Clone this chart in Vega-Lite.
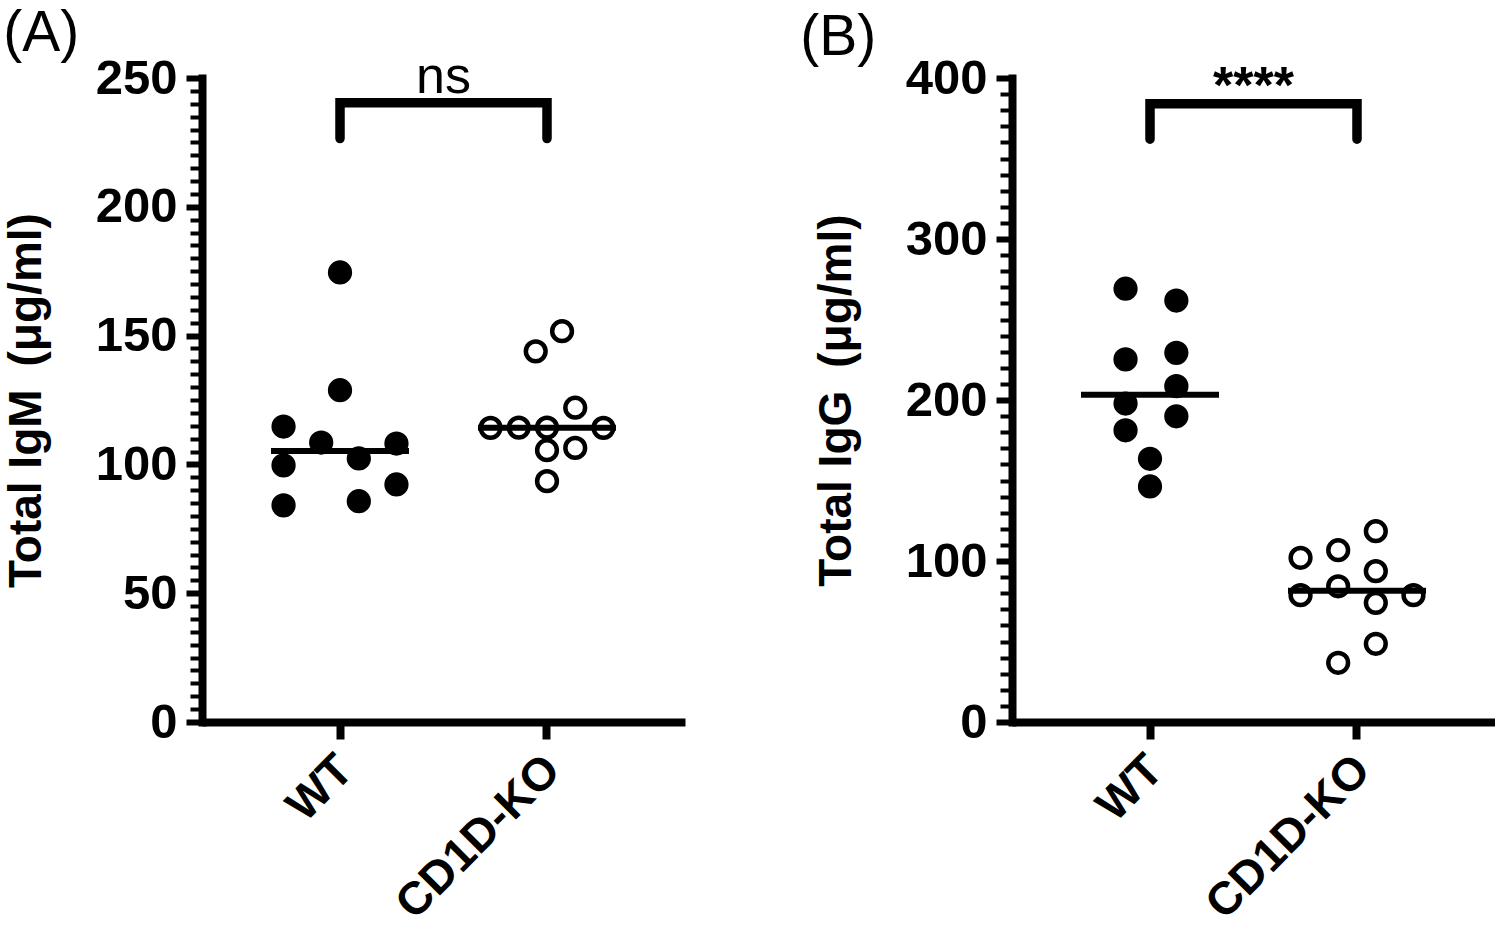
{
  "$schema": "https://vega.github.io/schema/vega-lite/v6.json",
  "background": "white",
  "padding": {"left": 3, "top": 5, "right": 0, "bottom": 0},
  "config": {
    "view": {"stroke": null},
    "font": "Liberation Sans",
    "axis": {"domainColor": "black", "tickColor": "black", "labelColor": "black", "titleColor": "black", "grid": false},
    "title": {"color": "black"},
    "text": {"color": "black"}
  },
  "datasets": {
    "igm": [
      {"group": "WT", "value": 174.5, "dodge": 0},
      {"group": "WT", "value": 128.8, "dodge": 0},
      {"group": "WT", "value": 114.7, "dodge": -3},
      {"group": "WT", "value": 108.5, "dodge": -1},
      {"group": "WT", "value": 108.1, "dodge": 3},
      {"group": "WT", "value": 99.6, "dodge": -3},
      {"group": "WT", "value": 102.3, "dodge": 1},
      {"group": "WT", "value": 84.1, "dodge": -3},
      {"group": "WT", "value": 85.7, "dodge": 1},
      {"group": "WT", "value": 92.2, "dodge": 3},
      {"group": "CD1D-KO", "value": 151.7, "dodge": 0.8},
      {"group": "CD1D-KO", "value": 143.9, "dodge": -0.6},
      {"group": "CD1D-KO", "value": 122.0, "dodge": 1.5},
      {"group": "CD1D-KO", "value": 114.2, "dodge": -3},
      {"group": "CD1D-KO", "value": 114.3, "dodge": -1.5},
      {"group": "CD1D-KO", "value": 114.3, "dodge": 0},
      {"group": "CD1D-KO", "value": 114.2, "dodge": 3},
      {"group": "CD1D-KO", "value": 105.5, "dodge": 0},
      {"group": "CD1D-KO", "value": 106.4, "dodge": 1.5},
      {"group": "CD1D-KO", "value": 93.5, "dodge": 0}
    ],
    "igg": [
      {"group": "WT", "value": 269.1, "dodge": -1.3},
      {"group": "WT", "value": 261.8, "dodge": 1.4},
      {"group": "WT", "value": 225.2, "dodge": -1.3},
      {"group": "WT", "value": 229.3, "dodge": 1.4},
      {"group": "WT", "value": 208.6, "dodge": 1.4},
      {"group": "WT", "value": 197.8, "dodge": -1.3},
      {"group": "WT", "value": 189.9, "dodge": 1.4},
      {"group": "WT", "value": 181.2, "dodge": -1.3},
      {"group": "WT", "value": 163.5, "dodge": 0},
      {"group": "WT", "value": 146.3, "dodge": 0},
      {"group": "CD1D-KO", "value": 118.5, "dodge": 1},
      {"group": "CD1D-KO", "value": 102.0, "dodge": -3},
      {"group": "CD1D-KO", "value": 106.7, "dodge": -1},
      {"group": "CD1D-KO", "value": 93.7, "dodge": 1},
      {"group": "CD1D-KO", "value": 78.8, "dodge": -3},
      {"group": "CD1D-KO", "value": 84.3, "dodge": -1},
      {"group": "CD1D-KO", "value": 74.0, "dodge": 1},
      {"group": "CD1D-KO", "value": 78.8, "dodge": 3},
      {"group": "CD1D-KO", "value": 48.6, "dodge": 1},
      {"group": "CD1D-KO", "value": 36.8, "dodge": -1}
    ],
    "bracketA": [
      {"group": "WT", "value": 226.5, "i": 0},
      {"group": "WT", "value": 240.4, "i": 1},
      {"group": "CD1D-KO", "value": 240.4, "i": 2},
      {"group": "CD1D-KO", "value": 226.5, "i": 3}
    ],
    "bracketB": [
      {"group": "WT", "value": 362, "i": 0},
      {"group": "WT", "value": 384, "i": 1},
      {"group": "CD1D-KO", "value": 384, "i": 2},
      {"group": "CD1D-KO", "value": 362, "i": 3}
    ],
    "sigA": [{"label": "ns", "value": 244.3}],
    "sigB": [{"label": "****", "value": 384.5}]
  },
  "bounds": "flush",
  "spacing": 327,
  "hconcat": [
    {
      "width": 483,
      "height": 644,
      "title": {"text": "(A)", "anchor": "start", "frame": "bounds", "fontSize": 57, "fontWeight": "normal", "font": "Liberation Sans", "offset": -12.5, "dx": 0},
      "encoding": {
        "x": {
          "field": "group", "type": "nominal", "sort": ["WT", "CD1D-KO"],
          "scale": {"type": "band", "domain": ["WT", "CD1D-KO"], "paddingInner": 0, "paddingOuter": 0.1667},
          "axis": {"title": null, "labelAngle": -45, "labelFontSize": 46, "labelFontWeight": "bold", "labelPadding": 8, "labelOffset": -10, "labelLimit": 0, "tickSize": 17, "tickWidth": 8, "domainWidth": 8, "domainCap": "butt", "labelOverlap": false}
        },
        "y": {
          "field": "value", "type": "quantitative",
          "scale": {"domain": [0, 250], "nice": false},
          "axis": {
            "title": "Total IgM\u2002(μg/ml)", "titleFontSize": 46, "titleFontWeight": "bold", "titlePadding": 45,
            "tickCount": 50, "labelExpr": "datum.value % 50 === 0 ? datum.label : ''",
            "labelFontSize": 49, "labelFontWeight": "bold", "labelPadding": 9, "labelOverlap": false, "labelFlush": false,
            "tickSize": {"condition": {"test": "datum.value % 50 === 0", "value": 16}, "value": 12},
            "tickWidth": {"condition": {"test": "datum.value % 50 === 0", "value": 6}, "value": 4},
            "domainWidth": 8, "domainCap": "square"
          }
        }
      },
      "layer": [
        {
          "data": {"name": "igm"},
          "mark": {"type": "point", "shape": "circle", "filled": true, "size": 390, "stroke": "black", "strokeWidth": 4.5, "opacity": 1},
          "encoding": {
            "xOffset": {"field": "dodge", "type": "quantitative", "scale": {"domain": [-5.5, 5.5]}},
            "fill": {"field": "group", "type": "nominal", "scale": {"domain": ["WT", "CD1D-KO"], "range": ["black", "white"]}, "legend": null}
          }
        },
        {
          "data": {"name": "igm"},
          "mark": {"type": "tick", "thickness": 6, "size": 138, "color": "black", "opacity": 1},
          "encoding": {"y": {"aggregate": "median", "field": "value", "type": "quantitative", "title": "Total IgM\u2002(μg/ml)"}}
        },
        {
          "data": {"name": "bracketA"},
          "mark": {"type": "line", "color": "black", "strokeWidth": 9.5, "strokeCap": "round", "strokeJoin": "miter"},
          "encoding": {"order": {"field": "i", "type": "quantitative"}}
        },
        {
          "data": {"name": "sigA"},
          "mark": {"type": "text", "fontSize": 52, "baseline": "alphabetic", "align": "center", "font": "Liberation Sans"},
          "encoding": {"x": {"datum": "CD1D-KO", "bandPosition": 0}, "text": {"field": "label", "type": "nominal"}}
        }
      ]
    },
    {
      "width": 483,
      "height": 644,
      "title": {"text": "(B)", "anchor": "start", "frame": "bounds", "fontSize": 57, "fontWeight": "normal", "font": "Liberation Sans", "offset": -12.5, "dx": -13},
      "encoding": {
        "x": {
          "field": "group", "type": "nominal", "sort": ["WT", "CD1D-KO"],
          "scale": {"type": "band", "domain": ["WT", "CD1D-KO"], "paddingInner": 0, "paddingOuter": 0.1667},
          "axis": {"title": null, "labelAngle": -45, "labelFontSize": 46, "labelFontWeight": "bold", "labelPadding": 8, "labelOffset": -10, "labelLimit": 0, "tickSize": 17, "tickWidth": 8, "domainWidth": 8, "domainCap": "butt", "labelOverlap": false}
        },
        "y": {
          "field": "value", "type": "quantitative",
          "scale": {"domain": [0, 400], "nice": false},
          "axis": {
            "title": "Total IgG\u2002(μg/ml)", "titleFontSize": 46, "titleFontWeight": "bold", "titlePadding": 45,
            "tickCount": 40, "labelExpr": "datum.value % 100 === 0 ? datum.label : ''",
            "labelFontSize": 49, "labelFontWeight": "bold", "labelPadding": 9, "labelOverlap": false, "labelFlush": false,
            "tickSize": {"condition": {"test": "datum.value % 100 === 0", "value": 16}, "value": 12},
            "tickWidth": {"condition": {"test": "datum.value % 100 === 0", "value": 6}, "value": 4},
            "domainWidth": 8, "domainCap": "square"
          }
        }
      },
      "layer": [
        {
          "data": {"name": "igg"},
          "mark": {"type": "point", "shape": "circle", "filled": true, "size": 390, "stroke": "black", "strokeWidth": 4.5, "opacity": 1},
          "encoding": {
            "xOffset": {"field": "dodge", "type": "quantitative", "scale": {"domain": [-5.5, 5.5]}},
            "fill": {"field": "group", "type": "nominal", "scale": {"domain": ["WT", "CD1D-KO"], "range": ["black", "white"]}, "legend": null}
          }
        },
        {
          "data": {"name": "igg"},
          "mark": {"type": "tick", "thickness": 6, "size": 138, "color": "black", "opacity": 1},
          "encoding": {"y": {"aggregate": "median", "field": "value", "type": "quantitative", "title": "Total IgG\u2002(μg/ml)"}}
        },
        {
          "data": {"name": "bracketB"},
          "mark": {"type": "line", "color": "black", "strokeWidth": 9.5, "strokeCap": "round", "strokeJoin": "miter"},
          "encoding": {"order": {"field": "i", "type": "quantitative"}}
        },
        {
          "data": {"name": "sigB"},
          "mark": {"type": "text", "fontSize": 52, "fontWeight": "bold", "baseline": "alphabetic", "align": "center", "font": "Liberation Sans"},
          "encoding": {"x": {"datum": "CD1D-KO", "bandPosition": 0}, "text": {"field": "label", "type": "nominal"}}
        }
      ]
    }
  ]
}
